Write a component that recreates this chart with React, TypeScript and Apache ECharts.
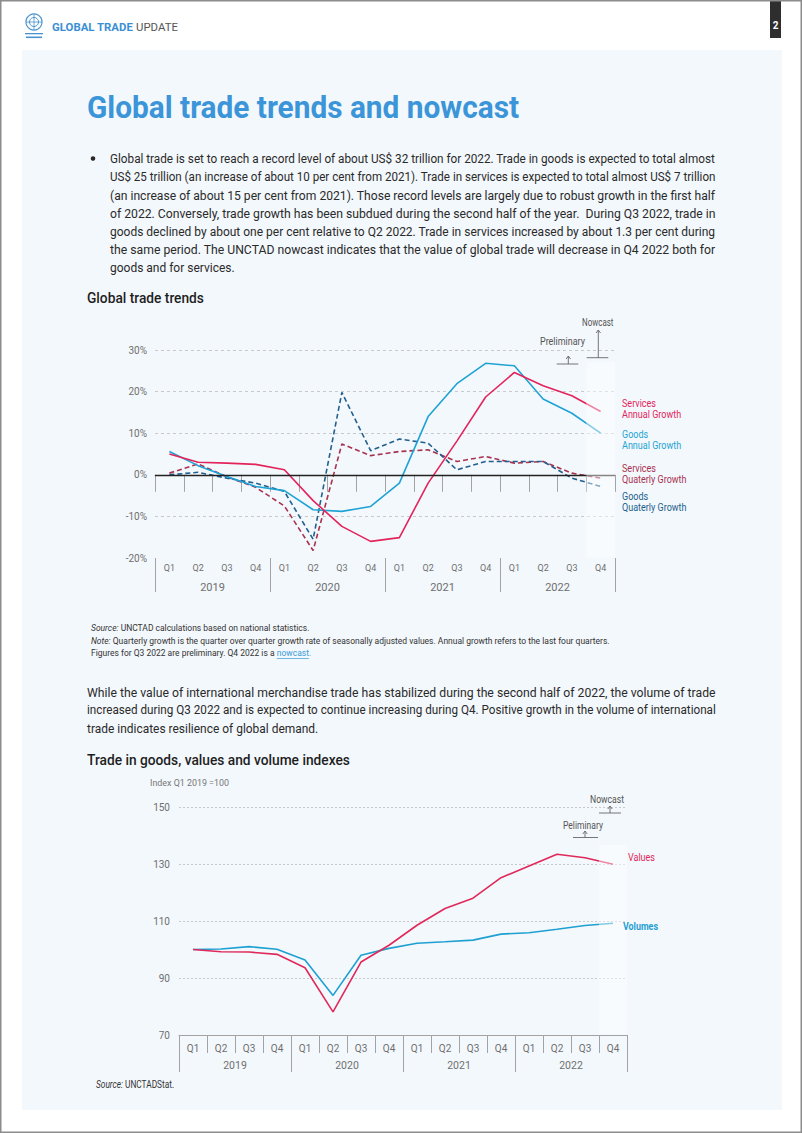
import React, { useEffect, useRef } from "react";
import * as echarts from "echarts";

// ---------- DATA ----------
const quarters = ["Q1", "Q2", "Q3", "Q4", "Q1", "Q2", "Q3", "Q4", "Q1", "Q2", "Q3", "Q4", "Q1", "Q2", "Q3", "Q4"];
const years = ["2019", "2020", "2021", "2022"];

// Global trade trends (%)
const servicesAnnual = [5.0, 3.0, 2.8, 2.5, 1.2, -6.2, -12.4, -16.0, -15.1, -2.0, 8.1, 18.7, 24.6, 21.4, 19.0, 15.2];
const goodsAnnual = [5.6, 2.2, -0.4, -2.8, -3.8, -8.4, -8.8, -7.6, -2.0, 14.0, 21.9, 26.8, 26.2, 18.2, 14.8, 10.0];
const servicesQuarterly = [0.4, 2.6, -0.5, -3.0, -7.5, -18.2, 7.4, 4.6, 5.6, 6.0, 3.2, 4.4, 2.8, 3.2, 0.4, -0.8];
const goodsQuarterly = [0.0, 0.6, -0.8, -2.0, -4.0, -15.5, 19.8, 5.8, 8.6, 7.6, 1.2, 3.2, 3.2, 3.2, -0.8, -2.8];

// Trade in goods, index Q1 2019 = 100
const valuesIndex = [100, 99.2, 99.1, 98.3, 93.6, 78.1, 95.6, 101.5, 108.5, 114.4, 118.0, 125.2, 129.3, 133.4, 132.2, 129.9];
const volumesIndex = [100, 100.2, 101.0, 100.1, 96.3, 83.9, 98.0, 100.4, 102.2, 102.7, 103.3, 105.4, 105.9, 107.1, 108.4, 109.2];

const growthTicks = { min: -20, max: 30, interval: 10 };
const indexTicks = { min: 70, max: 150, interval: 20 };

// ---------- TEXT ----------
const titleText = "Global trade trends and nowcast";
const bulletLines = [
  "Global trade is set to reach a record level of about US$ 32 trillion for 2022. Trade in goods is expected to total almost",
  "US$ 25 trillion (an increase of about 10 per cent from 2021). Trade in services is expected to total almost US$ 7 trillion",
  "(an increase of about 15 per cent from 2021). Those record levels are largely due to robust growth in the first half",
  "of 2022. Conversely, trade growth has been subdued during the second half of the year.  During Q3 2022, trade in",
  "goods declined by about one per cent relative to Q2 2022. Trade in services increased by about 1.3 per cent during",
  "the same period. The UNCTAD nowcast indicates that the value of global trade will decrease in Q4 2022 both for",
  "goods and for services.",
];
const para2Lines = [
  "While the value of international merchandise trade has stabilized during the second half of 2022, the volume of trade",
  "increased during Q3 2022 and is expected to continue increasing during Q4. Positive growth in the volume of international",
  "trade indicates resilience of global demand.",
];
const heading1 = "Global trade trends";
const heading2 = "Trade in goods, values and volume indexes";
const sourceNote1 = "UNCTAD calculations based on national statistics.";
const noteText = "Quarterly growth is the quarter over quarter growth rate of seasonally adjusted values. Annual growth refers to the last four quarters.";
const figuresPrefix = "Figures for Q3 2022 are preliminary. Q4 2022 is a ";
const nowcastLink = "nowcast.";
const source2 = "UNCTADStat.";

const FF = "Roboto, 'Noto Sans', 'DejaVu Sans', sans-serif";

const C = {
  panel: "#f3f8fc",
  title: "#3b95d8",
  sAnn: "#e3245b",
  gAnn: "#1fa3d4",
  sQ: "#a8324f",
  gQ: "#235f8e",
  values: "#e0295a",
  volumes: "#1fa0d2",
  axis: "#a3a3a3",
  label: "#6f6f6f",
  grid: "#c9c9c9",
  text: "#2a2a2a",
};

let _ctx: CanvasRenderingContext2D | null = null;
function mw(text: string, size: number, weight: number | string = 400, italic = false) {
  if (!_ctx) _ctx = document.createElement("canvas").getContext("2d");
  if (!_ctx) return text.length * size * 0.5;
  _ctx.font = `${italic ? "italic " : ""}${weight} ${size}px Roboto`;
  return _ctx.measureText(text).width;
}

type TO = {
  size: number;
  color: string;
  weight?: number | string;
  end?: number;
  scale?: number;
  rich?: any;
  plain?: string;
  italic?: boolean;
};
function T(text: string, x: number, y: number, o: TO) {
  const w = mw(o.plain ?? text, o.size, o.weight ?? 400, o.italic);
  const sx = o.end != null ? (o.end - x) / w : o.scale ?? 0.85;
  return {
    type: "text",
    x,
    y,
    scaleX: sx,
    z: 120,
    silent: true,
    style: {
      text,
      fill: o.color,
      fontSize: o.size,
      fontFamily: FF,
      fontWeight: o.weight ?? 400,
      fontStyle: o.italic ? "italic" : "normal",
      align: "left",
      verticalAlign: "middle",
      rich: o.rich,
    },
  };
}

function L(x1: number, y1: number, x2: number, y2: number, color: string, w = 1) {
  return { type: "line", z: 120, silent: true, shape: { x1, y1, x2, y2 }, style: { stroke: color, lineWidth: w } };
}
function arrowUp(x: number, yBottom: number, yTop: number, hx1: number, hx2: number, color: string) {
  return [
    L(x, yBottom, x, yTop, color, 0.9),
    { type: "polyline", z: 120, silent: true, shape: { points: [[x - 2.2, yTop + 3], [x, yTop], [x + 2.2, yTop + 3]] }, style: { stroke: color, lineWidth: 0.9, fill: "none" } },
    L(hx1, yBottom, hx2, yBottom, color, 0.9),
  ];
}

function buildGraphics() {
  const g: any[] = [];
  // panel and border
  g.push({ type: "rect", z: 0, silent: true, shape: { x: 22, y: 50, width: 760, height: 1060 }, style: { fill: C.panel } });
  g.push({ type: "rect", z: 200, silent: true, shape: { x: 0.75, y: 0.75, width: 800.5, height: 1131.5 }, style: { fill: "none", stroke: "#8c8c8c", lineWidth: 1.5 } });

  // header logo
  g.push({ type: "circle", z: 120, silent: true, shape: { cx: 34, cy: 22, r: 8 }, style: { fill: "none", stroke: "#4a93d0", lineWidth: 1.2 } });
  g.push({ type: "circle", z: 120, silent: true, shape: { cx: 34, cy: 22, r: 4.5 }, style: { fill: "none", stroke: "#4a93d0", lineWidth: 1 } });
  g.push(L(34, 14, 34, 30, "#4a93d0", 0.8));
  g.push(L(26, 22, 42, 22, "#4a93d0", 0.8));
  g.push({ type: "rect", z: 120, silent: true, shape: { x: 25, y: 33, width: 18, height: 1.3 }, style: { fill: "#4a93d0" } });
  g.push({ type: "rect", z: 120, silent: true, shape: { x: 26, y: 36.5, width: 16, height: 1.6 }, style: { fill: "#4a93d0" } });

  // header text
  const hs = 11.5;
  const hw = mw("GLOBAL TRADE ", hs, 700) + mw("UPDATE", hs, 400);
  g.push({
    type: "text", x: 52, y: 27, scaleX: (178 - 52) / hw, z: 120, silent: true,
    style: {
      text: "{b|GLOBAL TRADE} {r|UPDATE}", fontSize: hs, fontFamily: FF, align: "left", verticalAlign: "middle", fill: "#555",
      rich: {
        b: { fontSize: hs, fontFamily: FF, fontWeight: 700, fill: "#3a8fd4" },
        r: { fontSize: hs, fontFamily: FF, fontWeight: 400, fill: "#555" },
      },
    },
  });
  // page number
  g.push({ type: "rect", z: 120, silent: true, shape: { x: 770, y: 0, width: 11, height: 38 }, style: { fill: "#2e2e2e" } });
  g.push({ type: "text", x: 775.5, y: 25, z: 121, silent: true, style: { text: "2", fill: "#fff", fontSize: 10, fontWeight: 700, fontFamily: FF, align: "center", verticalAlign: "middle" } });

  // title
  g.push(T(titleText, 87, 107, { size: 32, weight: 700, color: C.title, end: 519 }));

  // bullet paragraph
  g.push({ type: "circle", z: 120, silent: true, shape: { cx: 93, cy: 158.5, r: 2.3 }, style: { fill: C.text } });
  const bScales: number[] = [];
  bulletLines.forEach((ln, i) => {
    if (i < bulletLines.length - 1) bScales.push(606 / mw(ln, 13));
  });
  const bAvg = bScales.reduce((a, b) => a + b, 0) / bScales.length;
  bulletLines.forEach((ln, i) => {
    g.push(T(ln, 110, 159 + i * 18, { size: 13, color: C.text, scale: i < bScales.length ? bScales[i] : bAvg }));
  });

  // heading 1
  g.push(T(heading1, 87, 298, { size: 15.5, weight: 500, color: "#1e1e1e", end: 204 }));

  // chart 1 side labels
  const ls = 10.5, lsc = 0.86;
  g.push(T("Services", 622, 403, { size: ls, color: C.sAnn, scale: lsc }));
  g.push(T("Annual Growth", 622, 414.5, { size: ls, color: C.sAnn, scale: lsc }));
  g.push(T("Goods", 622, 434, { size: ls, color: C.gAnn, scale: lsc }));
  g.push(T("Annual Growth", 622, 445.5, { size: ls, color: C.gAnn, scale: lsc }));
  g.push(T("Services", 622, 468, { size: ls, color: C.sQ, scale: lsc }));
  g.push(T("Quaterly Growth", 622, 479.5, { size: ls, color: C.sQ, scale: lsc }));
  g.push(T("Goods", 622, 496, { size: ls, color: C.gQ, scale: lsc }));
  g.push(T("Quaterly Growth", 622, 507.5, { size: ls, color: C.gQ, scale: lsc }));

  // chart 1 annotations
  g.push(T("Nowcast", 582, 322.5, { size: 10.5, color: "#555", end: 613.5 }));
  g.push(T("Preliminary", 540, 341.5, { size: 10.5, color: "#555", end: 585 }));
  g.push(...arrowUp(598.3, 357.7, 330, 586.7, 608.3, "#666"));
  g.push(...arrowUp(568.3, 364, 356, 556.7, 578.3, "#666"));
  // nowcast shading chart 1
  g.push({ type: "rect", z: 100, silent: true, shape: { x: 586.3, y: 362, width: 28.7, height: 195.5 }, style: { fill: "rgba(255,255,255,0.45)" } });

  // notes
  const ns = 9.5;
  const nScale = (610 - 91) / (mw("Note: ", ns, 400, true) + mw(noteText, ns));
  const itStyle = { fontSize: ns, fontFamily: FF, fontStyle: "italic", fill: "#333" };
  g.push(T("{i|Source:} " + sourceNote1, 91, 628, { size: ns, color: "#333", scale: nScale, plain: "Source: " + sourceNote1, rich: { i: itStyle } }));
  g.push(T("{i|Note:} " + noteText, 91, 640.5, { size: ns, color: "#333", scale: nScale, plain: "Note: " + noteText, rich: { i: itStyle } }));
  g.push(T(figuresPrefix + "{l|" + nowcastLink + "}", 91, 653, {
    size: ns, color: "#333", scale: nScale, plain: figuresPrefix + nowcastLink,
    rich: { l: { fontSize: ns, fontFamily: FF, fill: "#3a9ad9" } },
  }));
  const ux = 91 + mw(figuresPrefix, ns) * nScale;
  const uw = mw("nowcast", ns) * nScale;
  g.push(L(ux, 658.5, ux + uw, 658.5, "#3a9ad9", 0.7));

  // paragraph 2
  const pScales: number[] = [];
  para2Lines.forEach((ln, i) => {
    if (i < para2Lines.length - 1) pScales.push(629 / mw(ln, 13));
  });
  const pAvg = pScales.reduce((a, b) => a + b, 0) / pScales.length;
  para2Lines.forEach((ln, i) => {
    g.push(T(ln, 87, 692 + i * 18, { size: 13, color: C.text, scale: i < pScales.length ? pScales[i] : pAvg }));
  });

  // heading 2
  g.push(T(heading2, 87, 760, { size: 15.5, weight: 500, color: "#1e1e1e", end: 350 }));
  g.push(T("Index Q1 2019 =100", 150, 783, { size: 9, color: "#777", end: 229 }));

  // chart 2 annotations
  g.push(T("Nowcast", 590, 799, { size: 10.5, color: "#555", end: 624 }));
  g.push(...arrowUp(610, 813, 806, 599, 621, "#666"));
  g.push(T("Peliminary", 563, 825, { size: 10.5, color: "#555", end: 603 }));
  g.push(...arrowUp(585, 837.5, 831, 573, 598, "#666"));
  g.push(T("Values", 628, 857, { size: 11, color: C.values, end: 655 }));
  g.push(T("Volumes", 623, 926, { size: 11, weight: 700, color: C.volumes, end: 658 }));
  g.push({ type: "rect", z: 100, silent: true, shape: { x: 599, y: 845, width: 28, height: 189.5 }, style: { fill: "rgba(255,255,255,0.45)" } });

  // source 2
  g.push(T("{i|Source:} " + source2, 96, 1084, { size: 10, color: "#333", end: 175, plain: "Source: " + source2, rich: { i: { fontSize: 10, fontFamily: FF, fontStyle: "italic", fill: "#333" } } }));

  return g;
}

function qAxis(gridIndex: number, tickLen: number, fontSize: number, margin: number) {
  return {
    gridIndex, type: "category", data: quarters, position: "bottom", boundaryGap: true,
    axisLine: { show: true, lineStyle: { color: C.axis, width: 1 } },
    axisTick: { show: true, interval: 0, length: tickLen, lineStyle: { color: C.axis, width: 1 } },
    axisLabel: { interval: 0, fontSize, color: C.label, margin, fontFamily: FF },
    splitLine: { show: false },
  };
}
function yearAxis(gridIndex: number, tickLen: number, fontSize: number, margin: number) {
  return {
    gridIndex, type: "category", data: years, position: "bottom", boundaryGap: true,
    axisLine: { show: false },
    axisTick: { show: true, interval: 0, length: tickLen, lineStyle: { color: C.axis, width: 1 } },
    axisLabel: { interval: 0, fontSize, color: C.label, margin, fontFamily: FF },
    splitLine: { show: false },
  };
}

function lineSeries(name: string, data: number[], color: string, x: number, y: number, dashed = false, extra: any = {}) {
  return {
    name, type: "line", xAxisIndex: x, yAxisIndex: y, data, symbol: "none", smooth: false, z: 3,
    lineStyle: { color, width: 1.6, type: dashed ? [5, 3] : "solid" },
    itemStyle: { color },
    ...extra,
  };
}

function buildOption() {
  return {
    animation: false,
    backgroundColor: "#ffffff",
    textStyle: { fontFamily: FF },
    grid: [
      { left: 155, right: 187, top: 350, bottom: 1133 - 558 },
      { left: 179, right: 175, top: 807, bottom: 1133 - 1035 },
    ],
    xAxis: [qAxis(0, 17, 9, 5), yearAxis(0, 34, 11, 24), qAxis(1, 18, 10, 8), yearAxis(1, 37, 10.5, 25)],
    yAxis: [
      {
        gridIndex: 0, type: "value", ...growthTicks,
        axisLine: { show: false }, axisTick: { show: false },
        axisLabel: { formatter: "{value}%", fontSize: 10, color: C.label, margin: 8, fontFamily: FF },
        splitLine: { show: true, lineStyle: { color: ["transparent", C.grid, "transparent", C.grid, C.grid, C.grid], type: [3, 3], width: 1 } },
      },
      {
        gridIndex: 1, type: "value", ...indexTicks,
        axisLine: { show: false }, axisTick: { show: false },
        axisLabel: { fontSize: 10, color: C.label, margin: 9, fontFamily: FF },
        splitLine: { show: true, lineStyle: { color: ["transparent", C.grid, C.grid, C.grid, C.grid], type: [2, 2], width: 1 } },
      },
    ],
    series: [
      lineSeries("Services Quaterly Growth", servicesQuarterly, C.sQ, 0, 0, true, {
        markLine: { silent: true, symbol: "none", label: { show: false }, lineStyle: { color: "#222", width: 1.3, type: "solid" }, data: [{ yAxis: 0 }] },
      }),
      lineSeries("Goods Quaterly Growth", goodsQuarterly, C.gQ, 0, 0, true),
      lineSeries("Goods Annual Growth", goodsAnnual, C.gAnn, 0, 0),
      lineSeries("Services Annual Growth", servicesAnnual, C.sAnn, 0, 0),
      lineSeries("Volumes", volumesIndex, C.volumes, 2, 1),
      lineSeries("Values", valuesIndex, C.values, 2, 1),
    ],
    graphic: { elements: buildGraphics() },
  };
}

export default function App() {
  const ref = useRef<HTMLDivElement>(null);
  useEffect(() => {
    document.body.style.margin = "0";
    if (!ref.current) return;
    const chart = echarts.init(ref.current, undefined, { renderer: "svg" });
    chart.setOption(buildOption() as any);
    return () => chart.dispose();
  }, []);
  return <div ref={ref} style={{ position: "absolute", left: 0, top: 0, width: 802, height: 1133 }} />;
}
